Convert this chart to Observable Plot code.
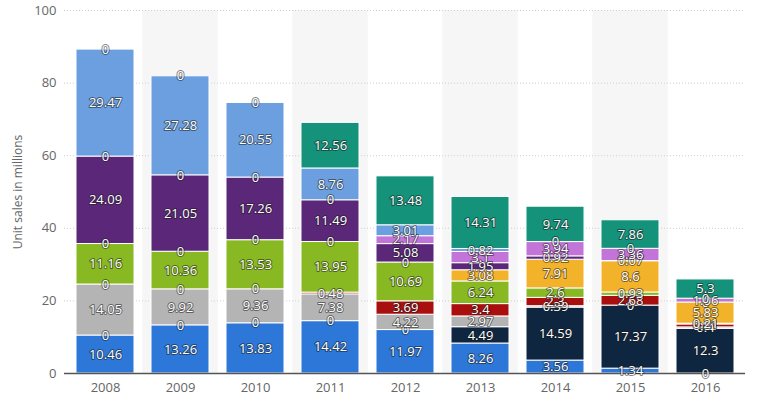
<!DOCTYPE html>
<html><head><meta charset="utf-8">
<script src="https://cdn.jsdelivr.net/npm/d3@7"></script>
<script src="https://cdn.jsdelivr.net/npm/@observablehq/plot@0.6"></script>
<style>body{margin:0;background:#fff;} #chart svg{display:block;}</style>
</head><body><div id="chart"></div>
<script>
const years = ["2008","2009","2010","2011","2012","2013","2014","2015","2016"];
const seriesNames = ["PS3","PS4","PSP","PS Vita","Xbox 360","Xbox One","Wii","Wii U","DS","3DS"];
const seriesColors = ["#2c77d8","#0f2640","#b4b4b4","#a90f0f","#88b822","#f2b22a","#5b2779","#c274d8","#6b9fe0","#14927a"];
const ps3     = [10.46, 13.26, 13.83, 14.42, 11.97, 8.26, 3.56, 1.34, 0];
const ps4     = [0, 0, 0, 0, 0, 4.49, 14.59, 17.37, 12.3];
const psp     = [14.05, 9.92, 9.36, 7.38, 4.22, 2.97, 0.39, 0, 0.4];
const vita    = [0, 0, 0, 0.48, 3.69, 3.4, 2.3, 2.68, 0.81];
const x360    = [11.16, 10.36, 13.53, 13.95, 10.69, 6.24, 2.6, 0.93, 0.21];
const xone    = [0, 0, 0, 0, 0, 3.08, 7.91, 8.6, 5.83];
const wii     = [24.09, 21.05, 17.26, 11.49, 5.08, 1.95, 0.92, 0.07, 0];
const wiiu    = [0, 0, 0, 0, 2.17, 3.1, 3.94, 3.36, 1.06];
const ds      = [29.47, 27.28, 20.55, 8.76, 3.01, 0.82, 0, 0, 0];
const n3ds    = [0, 0, 0, 12.56, 13.48, 14.31, 9.74, 7.86, 5.3];
const yTicks = [0, 20, 40, 60, 80, 100];
const gridTicks = [20, 40, 60, 80, 100];
const shadedYears = ["2009","2011","2013","2015"];
const yTitle = "Unit sales in millions";

const seriesValues = [ps3, ps4, psp, vita, x360, xone, wii, wiiu, ds, n3ds];
const data = [];
seriesNames.forEach((name, s) => {
  years.forEach((yr, i) => data.push({year: yr, series: name, value: seriesValues[s][i]}));
});

const chart = Plot.plot({
  width: 763, height: 402,
  marginLeft: 64, marginRight: 18, marginTop: 10, marginBottom: 29,
  style: {fontFamily: "'Open Sans', sans-serif", fontSize: "13px", color: "#666", background: "#fff"},
  x: {domain: years, paddingInner: 0.23, paddingOuter: 0.115, label: null, tickSize: 0, tickPadding: 9},
  y: {domain: [0, 100], ticks: yTicks, label: null, tickSize: 0, tickPadding: 8},
  color: {domain: seriesNames, range: seriesColors},
  marks: [
    Plot.barY(shadedYears, {x: d => d, y1: 0, y2: 100, fill: "#f6f6f6", insetLeft: -8.7, insetRight: -8.7}),
    Plot.ruleY(gridTicks, {stroke: "#cfcfcf", strokeDasharray: "1,2"}),
    Plot.barY(data, {x: "year", y: "value", fill: "series", order: null, stroke: "#fff", strokeWidth: 1}),
    Plot.ruleY([0], {stroke: "#555", strokeWidth: 1.5}),
    Plot.text(data, Plot.stackY({x: "year", y: "value", z: "series", order: null,
      text: d => String(d.value), fill: "#fff", stroke: "#1a1a1a", strokeOpacity: 0.55,
      strokeWidth: 2, paintOrder: "stroke", fontSize: 13})),
    Plot.text([yTitle], {frameAnchor: "left", dx: -46, rotate: -90, textAnchor: "middle",
      fill: "#666", fontSize: 12})
  ]
});
document.getElementById("chart").appendChild(chart);
</script>
</body></html>
